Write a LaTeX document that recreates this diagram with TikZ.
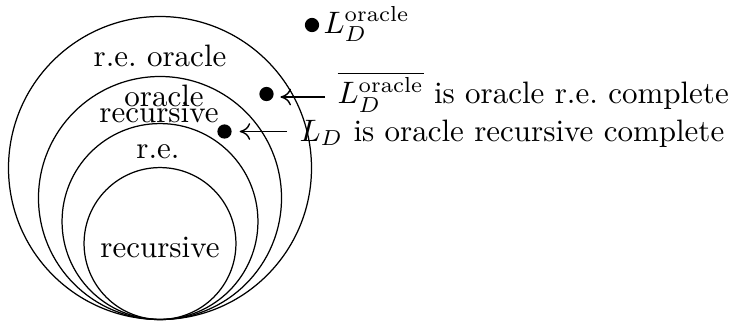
\documentclass[tikz,border=0pt]{standalone}
\usetikzlibrary{arrows.meta}
\begin{document}
\begin{tikzpicture}[x=0.3226pt,y=-0.3226pt,
  ring/.style={draw,circle,inner sep=0pt,line width=0.4pt},
  lbl/.style={inner sep=0pt,anchor=base},
  rtxt/.style={inner sep=0pt,anchor=base west},
  dot/.style={circle,fill=black,inner sep=0pt,minimum size=4.6pt},
  arr/.style={-{Computer Modern Rightarrow[length=3.4pt,width=5.4pt]},line width=0.45pt}]
\useasboundingbox (0,0) rectangle (730,320);
% nested circles, tangent at the bottom
\node[ring,minimum size=97.75pt] (reo) at (160,168) {};
\node[ring,minimum size=78.4pt] (orec) at (160,198) {};
\node[ring,minimum size=63.2pt] (re) at (160,221.5) {};
\node[ring,minimum size=49.0pt] (rec) at (160,243.5) {};
% circle labels
\node[lbl] (lreo) at (160,66.5) {r.e.\ oracle};
\node[lbl] (lor1) at (164,106) {oracle};
\node[lbl] (lor2) at (159,122.5) {recursive};
\node[lbl] (lre) at (158,158) {r.e.};
\node[lbl] (lrec) at (160,257) {recursive};
% dots
\node[dot] (d0) at (312,25) {};
\node[dot] (d1) at (266.5,94) {};
\node[dot] (d2) at (224.5,131.5) {};
% texts
\node[rtxt] (t0) at (323,33) {$L_D^{\mathrm{oracle}}$};
\node[rtxt] (t1) at (337,103.5) {$\overline{L_D^{\mathrm{oracle}}}$ is oracle r.e.\ complete};
\node[rtxt] (t2) at (299,141) {$L_D$ is oracle recursive complete};
% arrows
\coordinate (a1) at (325,97);
\coordinate (a2) at (287,131.5);
\draw[arr,shorten >=2pt] (a1) -- (a1 -| d1.east);
\draw[arr,shorten >=2.4pt] (a2) -- (a2 -| d2.east);
\end{tikzpicture}
\end{document}
